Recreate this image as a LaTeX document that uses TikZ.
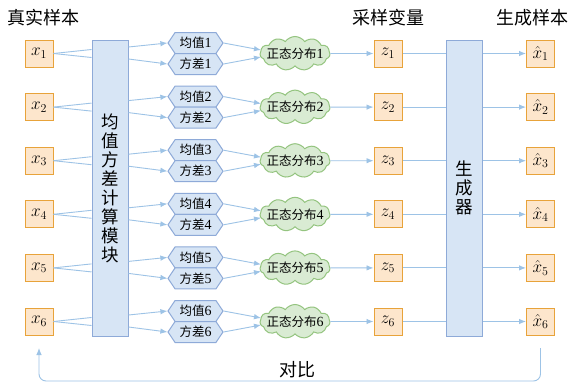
\documentclass[tikz,border=0pt]{standalone}
\usepackage{fontspec}
\setmainfont{Liberation Serif}
\newfontfamily\cjk{Noto Sans CJK SC}
\usetikzlibrary{shapes.symbols,arrows.meta}
\definecolor{ofill}{HTML}{FDE6CC}
\definecolor{odraw}{HTML}{E8A33A}
\definecolor{bfill}{HTML}{D7E5F5}
\definecolor{bdraw}{HTML}{8EAAD8}
\definecolor{gfill}{HTML}{D9EBD3}
\definecolor{gdraw}{HTML}{94C47F}
\definecolor{acol}{HTML}{9DC3E6}
\newcommand{\dg}[1]{{\fontsize{14}{14}\selectfont #1}}
\begin{document}
\begin{tikzpicture}[x=1pt,y=-1pt,
  obox/.style={draw=odraw,fill=ofill,line width=1pt,minimum width=28pt,minimum height=27pt,inner sep=0pt,font=\fontsize{17}{18}\selectfont},
  bigbox/.style={draw=bdraw,fill=bfill,line width=1pt,minimum width=36pt,minimum height=296pt,inner sep=0pt,align=center,font=\cjk\fontsize{17.5}{19}\selectfont},
  hexa/.style={signal,signal to=west and east,signal pointer angle=112,draw=bdraw,fill=bfill,line width=1pt,minimum width=55pt,minimum height=21pt,inner sep=0pt,font=\fontsize{12.5}{14}\selectfont},
  cloudbox/.style={cloud,cloud puffs=11,cloud puff arc=110,aspect=2.1,draw=gdraw,fill=gfill,line width=1pt,minimum width=70pt,minimum height=34pt,inner sep=0pt},
  cloudtxt/.style={inner sep=0pt,font=\fontsize{12.5}{14}\selectfont},
  arr/.style={draw=acol,line width=0.9pt,-{Latex[length=7pt,width=5.5pt]}},
  ln/.style={draw=acol,line width=0.9pt},
  head/.style={inner sep=0pt,font=\cjk\fontsize{18}{20}\selectfont}
]
\useasboundingbox (0,0) rectangle (571,386);
\fill[white] (0,0) rectangle (571,386);

\node[head] (h1) at (44,18) {真实样本};
\node[head] (h2) at (388,18) {采样变量};
\node[head] (h3) at (532,18) {生成样本};

\node[bigbox] (enc) at (110,188) {均\\值\\方\\差\\计\\算\\模\\块};
\node[bigbox] (gen) at (464,188) {生\\成\\器};

\foreach \i in {1,...,6}{
  \pgfmathsetmacro{\r}{53.5+53.6*(\i-1)}
  \node[obox] (x\i) at (39,\r) {$x_{\i}$};
  \node[hexa] (m\i) at (195.5,\r-10.5) {{\cjk 均值}\dg{\i}};
  \node[hexa] (v\i) at (195.5,\r+10.5) {{\cjk 方差}\dg{\i}};
  \node[cloudbox] (c\i) at (295,\r) {};
  \node[cloudtxt] (ct\i) at (295,\r) {{\cjk 正态分布}\dg{\i}};
  \node[obox] (z\i) at (388,\r) {$z_{\i}$};
  \node[obox] (xh\i) at (540.5,\r) {$\hat{x}_{\i}$};
  \draw[ln] (x\i.east) -- ([yshift=4pt]enc.west |- x\i.east);
  \draw[ln] (x\i.east) -- ([yshift=-4pt]enc.west |- x\i.east);
  \draw[arr] ([yshift=6.5pt]enc.east |- x\i.east) -- (m\i.west);
  \draw[arr] ([yshift=-5.5pt]enc.east |- x\i.east) -- (v\i.west);
  \draw[arr] (m\i.east) -- ([yshift=3.5pt,xshift=-34pt]c\i.center);
  \draw[arr] (v\i.east) -- ([yshift=-3.5pt,xshift=-34pt]c\i.center);
  \draw[arr] (c\i.east) -- (z\i.west);
  \draw[ln] (z\i.east) -- (gen.west |- z\i.east);
  \draw[arr] (gen.east |- xh\i.west) -- (xh\i.west);
}

\coordinate (fbs) at (540.5,348);
\coordinate (fbe) at (39,348);
\draw[arr,rounded corners=7pt] (fbs) -- (540.5,381) -- (39,381) -- (fbe);
\node[head] (cmp) at (297,370) {对比};
\end{tikzpicture}
\end{document}
